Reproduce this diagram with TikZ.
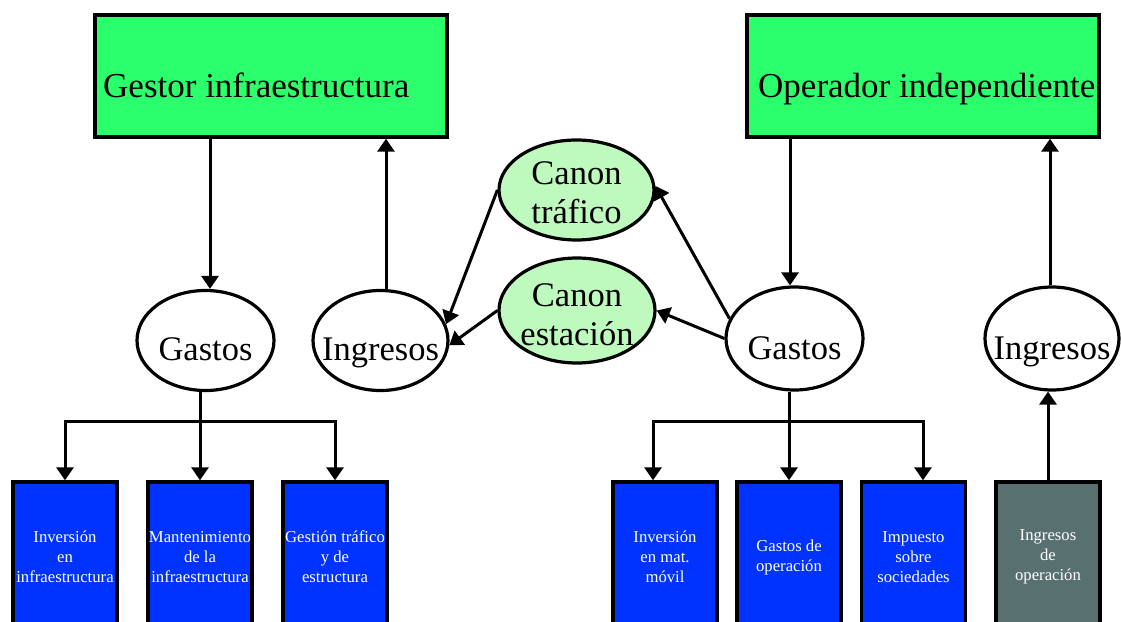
\documentclass[tikz,border=0pt]{standalone}
\usepackage{fontspec}
\setmainfont{Liberation Serif}
\usetikzlibrary{arrows.meta,shapes.geometric}
\definecolor{agentgreen}{RGB}{43,255,107}
\definecolor{canongreen}{RGB}{190,250,190}
\definecolor{costblue}{RGB}{0,51,255}
\definecolor{incomegray}{RGB}{88,112,112}
\tikzset{
  agentbox/.style={draw, line width=3.4pt, fill=agentgreen, minimum width=352pt, minimum height=122pt, inner sep=0pt},
  agenttext/.style={anchor=base west, inner sep=0pt, font=\fontsize{35}{40}\selectfont},
  flow/.style={ellipse, draw, line width=3.2pt, fill=white, inner sep=0pt},
  canon/.style={flow, fill=canongreen},
  flowtext/.style={anchor=base, inner sep=0pt, font=\fontsize{34.5}{40}\selectfont},
  canontext/.style={inner sep=0pt, align=center, font=\fontsize{34.5}{39}\selectfont},
  item/.style={draw, line width=3.4pt, fill=costblue, text=white, inner sep=0pt, minimum width=104pt, minimum height=150pt, align=center, font=\fontsize{16.7}{20}\selectfont},
  arr/.style={line width=3pt, -{Triangle[width=17pt,length=13pt]}}
}
\begin{document}
\begin{tikzpicture}[x=1pt,y=-1pt]
\useasboundingbox (0,0) rectangle (1121,621);
\clip (0,0) rectangle (1121,621);

% agents
\node[agentbox] (gestor) at (271,76) {};
\node[agenttext] (gestorT) at (103,97) {Gestor infraestructura};
\node[agentbox] (operador) at (923,76) {};
\node[agenttext] (operadorT) at (758,97) {Operador independiente};

% flows of each agent
\node[flow, minimum width=137pt, minimum height=100pt] (gastosL) at (205.5,340.5) {};
\node[flowtext] (gastosLT) at (205.5,360) {Gastos};
\node[flow, minimum width=135pt, minimum height=100pt] (ingL) at (380.5,340.5) {};
\node[flowtext] (ingLT) at (380.5,360) {Ingresos};
\node[flow, minimum width=137pt, minimum height=103pt] (gastosR) at (794.5,338.5) {};
\node[flowtext] (gastosRT) at (794.5,359) {Gastos};
\node[flow, minimum width=134pt, minimum height=103pt] (ingR) at (1052,338.5) {};
\node[flowtext] (ingRT) at (1052,359) {Ingresos};

% canons
\node[canon, minimum width=155pt, minimum height=100pt] (trafico) at (576.5,190) {};
\node[canontext] (traficoT) at (576.5,193) {Canon\\tráfico};
\node[canon, minimum width=156pt, minimum height=105pt] (estacion) at (577,310.5) {};
\node[canontext] (estacionT) at (577,315) {Canon\\estación};

% cost and income items
\node[item] (boxA) at (65,557) {Inversión\\en\\infraestructura};
\node[item] (boxB) at (200,557) {Mantenimiento\\de la\\infraestructura};
\node[item] (boxC) at (335,557) {Gestión tráfico\\y de\\estructura};
\node[item] (boxD) at (665,557) {Inversión\\en mat.\\móvil};
\node[item] (boxE) at (789,557) {Gastos de\\operación};
\node[item] (boxF) at (913.5,557) {Impuesto\\sobre\\sociedades};
\node[item, fill=incomegray] (boxG) at (1048,557) {Ingresos\\de\\operación};

% agent links
\draw[arr] ([xshift=4.5pt]gastosL.north |- gestor.south) -- ([xshift=4.5pt]gastosL.north);
\draw[arr] ([xshift=5.5pt]ingL.north) -- ([xshift=5.5pt]ingL.north |- gestor.south);
\draw[arr] ([xshift=-4.5pt]gastosR.north |- operador.south) -- ([xshift=-4.5pt]gastosR.north);
\draw[arr] ([xshift=-2pt]ingR.north) -- ([xshift=-2pt]ingR.north |- operador.south);

% canon payments
\draw[arr] (trafico.west) -- (ingL.14);
\draw[arr] (estacion.west) -- (ingL.-4);
\draw[arr] (gastosR.163) -- (trafico.3);
\draw[arr] (gastosR.180) -- (estacion.east);

% left cost tree
\coordinate (busL) at (0,421);
\draw[arr] (gastosL.south -| boxB) -- (boxB.north);
\draw[arr] (busL -| boxC) -- (busL -| boxA) -- (boxA.north);
\draw[arr] (busL -| boxA) -- (busL -| boxC) -- (boxC.north);

% right cost tree
\coordinate (dropD) at (653,421);
\coordinate (dropF) at (923,421);
\draw[arr] (gastosR.south -| boxE) -- (boxE.north);
\draw[arr] (dropF) -- (dropD) -- (dropD |- boxD.north);
\draw[arr] (dropD) -- (dropF) -- (dropF |- boxF.north);

% operating income
\draw[arr] (boxG.north) -- (boxG.north |- ingR.south);
\end{tikzpicture}
\end{document}
